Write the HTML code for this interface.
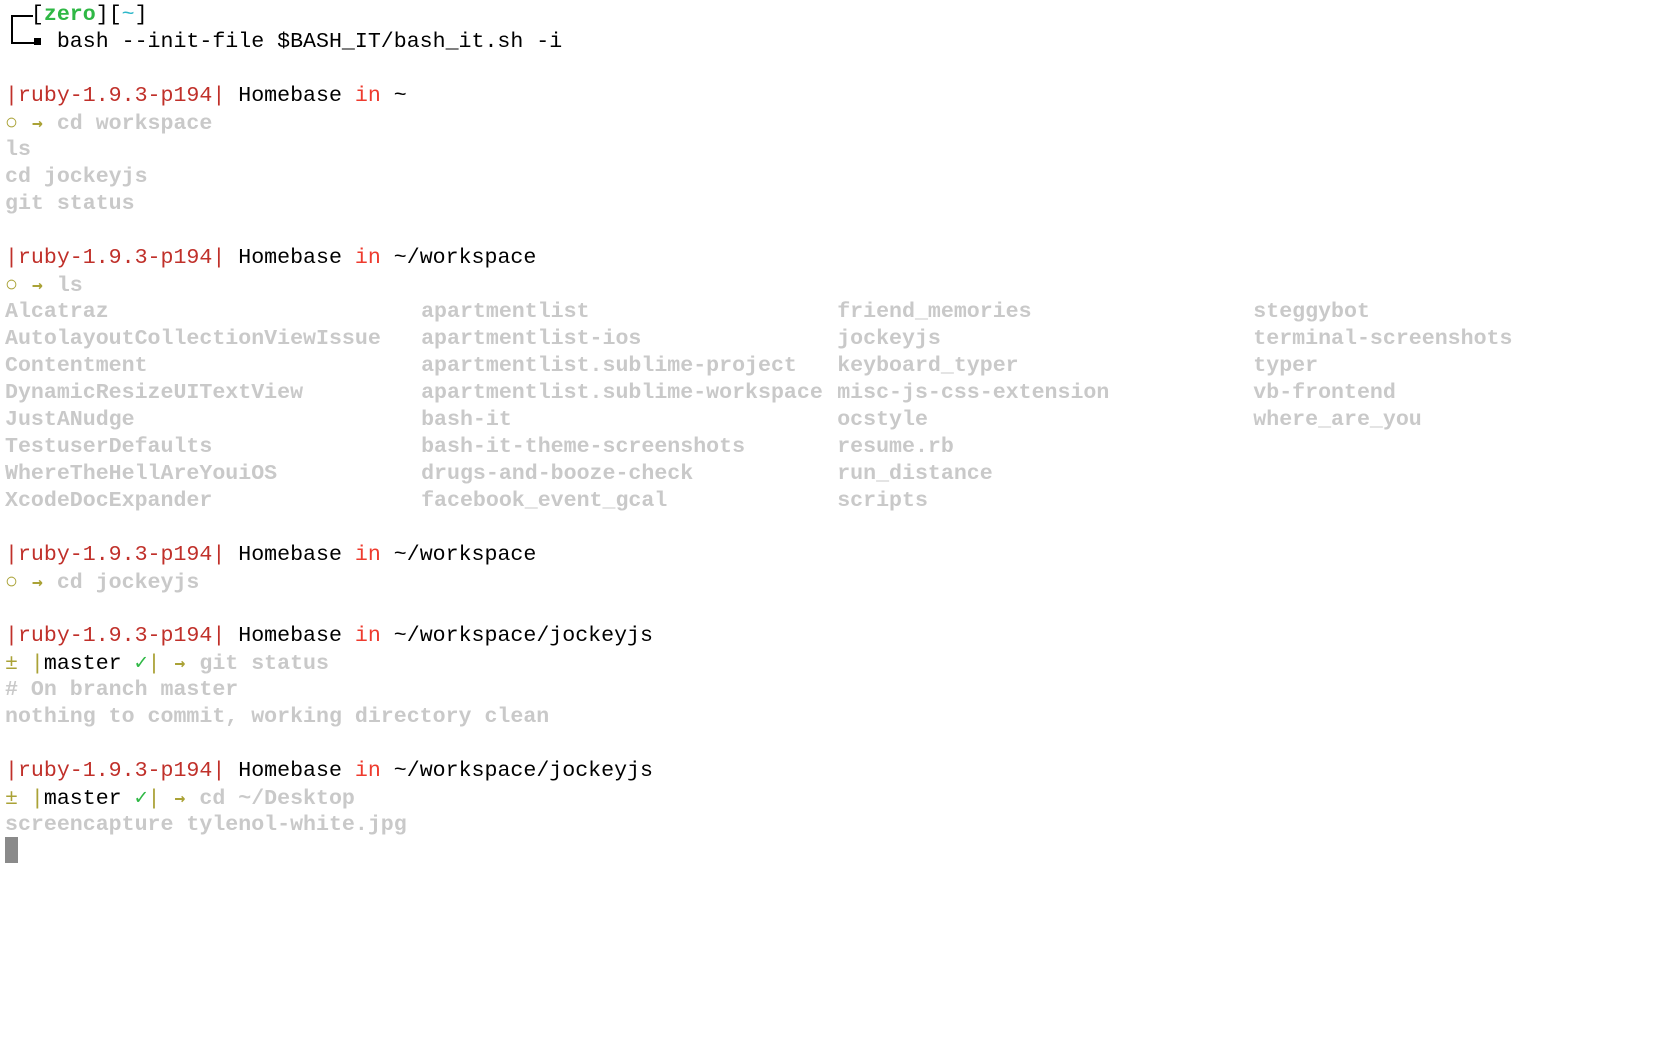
<!DOCTYPE html>
<html><head><meta charset="utf-8"><style>
html,body{margin:0;padding:0;background:#fff;width:1680px;height:1050px;overflow:hidden;}
#t{position:absolute;left:5px;top:2px;font-family:"Liberation Mono","DejaVu Sans Mono",monospace;font-size:21.6px;color:#000;}
.l{height:27px;line-height:27px;white-space:pre;}
.g{color:#c9c9c9;font-weight:bold;}
.r{color:#c0302a;}
.i{color:#ee3b2e;}
.o{color:#aaa236;}
.gr{color:#2fb845;font-weight:bold;}
.cy{color:#2eb7c9;}
.ck{color:#2fb845;}
.c{display:inline-block;width:12.96px;text-align:center;}
.a{font-family:"DejaVu Sans Mono",monospace;font-size:18px;font-weight:bold;}
.col{display:inline-block;width:416.1px;}
#cur{position:absolute;left:5px;top:837px;width:13px;height:26px;background:#8a8a8a;}
.bx{position:absolute;background:#000;}
</style></head><body>
<div class="bx" style="left:11px;top:15px;width:2px;height:28px"></div>
<div class="bx" style="left:11px;top:15px;width:22px;height:2px"></div>
<div class="bx" style="left:11px;top:42px;width:24px;height:2px"></div>
<div class="bx" style="left:34px;top:38px;width:7px;height:7px"></div>
<div id="t">
<div class="l">  [<span class="gr">zero</span>][<span class="cy">~</span>]</div>
<div class="l">    bash --init-file $BASH_IT/bash_it.sh -i</div>
<div class="l"> </div>
<div class="l"><span class="r">|ruby-1.9.3-p194|</span> Homebase <span class="i">in</span> ~</div>
<div class="l"><span class="o"><span class="c">○</span> <span class="c a">→</span></span> <span class="g">cd workspace</span></div>
<div class="l g">ls</div>
<div class="l g">cd jockeyjs</div>
<div class="l g">git status</div>
<div class="l"> </div>
<div class="l"><span class="r">|ruby-1.9.3-p194|</span> Homebase <span class="i">in</span> ~/workspace</div>
<div class="l"><span class="o"><span class="c">○</span> <span class="c a">→</span></span> <span class="g">ls</span></div>
<div class="l g"><span class="col">Alcatraz</span><span class="col">apartmentlist</span><span class="col">friend_memories</span><span class="col">steggybot</span></div>
<div class="l g"><span class="col">AutolayoutCollectionViewIssue</span><span class="col">apartmentlist-ios</span><span class="col">jockeyjs</span><span class="col">terminal-screenshots</span></div>
<div class="l g"><span class="col">Contentment</span><span class="col">apartmentlist.sublime-project</span><span class="col">keyboard_typer</span><span class="col">typer</span></div>
<div class="l g"><span class="col">DynamicResizeUITextView</span><span class="col">apartmentlist.sublime-workspace</span><span class="col">misc-js-css-extension</span><span class="col">vb-frontend</span></div>
<div class="l g"><span class="col">JustANudge</span><span class="col">bash-it</span><span class="col">ocstyle</span><span class="col">where_are_you</span></div>
<div class="l g"><span class="col">TestuserDefaults</span><span class="col">bash-it-theme-screenshots</span><span class="col">resume.rb</span></div>
<div class="l g"><span class="col">WhereTheHellAreYouiOS</span><span class="col">drugs-and-booze-check</span><span class="col">run_distance</span></div>
<div class="l g"><span class="col">XcodeDocExpander</span><span class="col">facebook_event_gcal</span><span class="col">scripts</span></div>
<div class="l"> </div>
<div class="l"><span class="r">|ruby-1.9.3-p194|</span> Homebase <span class="i">in</span> ~/workspace</div>
<div class="l"><span class="o"><span class="c">○</span> <span class="c a">→</span></span> <span class="g">cd jockeyjs</span></div>
<div class="l"> </div>
<div class="l"><span class="r">|ruby-1.9.3-p194|</span> Homebase <span class="i">in</span> ~/workspace/jockeyjs</div>
<div class="l"><span class="o"><span class="c">±</span> |</span>master <span class="ck"><span class="c">✓</span></span><span class="o">| <span class="c a">→</span></span> <span class="g">git status</span></div>
<div class="l g"># On branch master</div>
<div class="l g">nothing to commit, working directory clean</div>
<div class="l"> </div>
<div class="l"><span class="r">|ruby-1.9.3-p194|</span> Homebase <span class="i">in</span> ~/workspace/jockeyjs</div>
<div class="l"><span class="o"><span class="c">±</span> |</span>master <span class="ck"><span class="c">✓</span></span><span class="o">| <span class="c a">→</span></span> <span class="g">cd ~/Desktop</span></div>
<div class="l g">screencapture tylenol-white.jpg</div>
</div>
<div id="cur"></div>
</body></html>
